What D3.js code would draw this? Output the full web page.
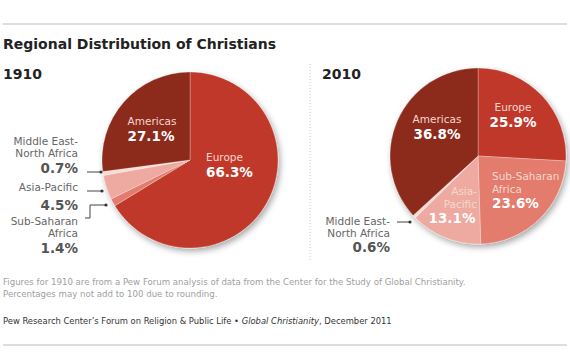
<!DOCTYPE html>
<html>
  <head>
    <meta charset="utf-8">
    <title>Regional Distribution of Christians</title>
    <style type="text/css">
      body {
        margin: 0;
        font-family: "DejaVu Sans", Verdana, sans-serif;
        background: #fff;
      }
      .title { font-size: 14px; font-weight: bold; fill: #222; }
      .year { font-size: 14px; font-weight: bold; fill: #222; }
      .in-name { font-size: 10.5px; fill: #f6d6cf; }
      .in-value { font-size: 13.5px; font-weight: bold; fill: #fff; }
      .out-name { font-size: 10.5px; fill: #666; }
      .out-value { font-size: 13.5px; font-weight: bold; fill: #555; }
      .note { font-size: 8.6px; fill: #a0a0a0; }
      .source { font-size: 8.4px; fill: #333; }
      .leader { fill: none; stroke: #444; stroke-width: 1px; }
    </style>
  </head>
  <body>
    <script src="https://cdnjs.cloudflare.com/ajax/libs/d3/7.8.5/d3.min.js"></script>
    <script>
    // data
    var regions = ["Europe", "Sub-Saharan Africa", "Asia-Pacific", "Middle East-North Africa", "Americas"];
    var shares1910 = [66.3, 1.4, 4.5, 0.7, 27.1];
    var shares2010 = [25.9, 23.6, 13.1, 0.6, 36.8];
    var years = ["1910", "2010"];

    var width = 570, height = 352;

    var color = d3.scaleOrdinal()
        .domain(regions)
        .range(["#c0392a", "#e37b6d", "#eeaaa0", "#f8dbd5", "#8c2a1d"]);

    var svg = d3.select("body").append("svg")
        .attr("width", width)
        .attr("height", height);

    var defs = svg.append("defs");
    var shadow = defs.append("filter")
        .attr("id", "shadow")
        .attr("x", "-20%").attr("y", "-20%")
        .attr("width", "140%").attr("height", "140%");
    shadow.append("feDropShadow")
        .attr("dx", 2).attr("dy", 3)
        .attr("stdDeviation", 3)
        .attr("flood-color", "#000")
        .attr("flood-opacity", 0.35);

    // rules
    svg.append("line")
        .attr("x1", 3).attr("x2", 567)
        .attr("y1", 24).attr("y2", 24)
        .style("stroke", "#ddd").style("stroke-width", 2);
    svg.append("line")
        .attr("x1", 3).attr("x2", 567)
        .attr("y1", 345).attr("y2", 345)
        .style("stroke", "#ddd").style("stroke-width", 2);
    svg.append("line")
        .attr("x1", 310).attr("x2", 310)
        .attr("y1", 64).attr("y2", 262)
        .style("stroke", "#ccc").style("stroke-width", 1)
        .style("stroke-dasharray", "1 2");

    svg.append("text").attr("class", "title")
        .attr("x", 3).attr("y", 49)
        .text("Regional Distribution of Christians");

    var pie = d3.pie().sort(null).value(function(d) { return d.value; });
    var radius = 88;
    var arc = d3.arc().innerRadius(0).outerRadius(radius);

    // label layout per year: dx/dy relative to pie centre
    var layout = {
      "1910": {
        cx: 190, cy: 160, yearX: 3, yearY: 79,
        inside: {
          "Europe": { x: 16, y: 1, anchor: "start", lines: ["Europe"], vx: 16, vy: 17 },
          "Americas": { x: -38, y: -35, anchor: "middle", lines: ["Americas"], vx: -39, vy: -19 }
        }
      },
      "2010": {
        cx: 478, cy: 156, yearX: 322, yearY: 79,
        inside: {
          "Europe": { x: 35, y: -45, anchor: "middle", lines: ["Europe"], vx: 35, vy: -29 },
          "Americas": { x: -41, y: -33, anchor: "middle", lines: ["Americas"], vx: -41, vy: -17 },
          "Sub-Saharan Africa": { x: 14, y: 24, anchor: "start", lines: ["Sub-Saharan", "Africa"], vx: 14, vy: 52 },
          "Asia-Pacific": { x: -1, y: 39, anchor: "end", lines: ["Asia-", "Pacific"], vx: -26, vy: 67, vanchor: "middle" }
        }
      }
    };

    var outside1910 = [
      { region: "Middle East-North Africa", lines: ["Middle East-", "North Africa"], x: 78, y: 145, vy: 173,
        path: [[87, 172], [101, 172]] },
      { region: "Asia-Pacific", lines: ["Asia-Pacific"], x: 78, y: 191, vy: 210,
        path: [[87, 191], [102, 191]] },
      { region: "Sub-Saharan Africa", lines: ["Sub-Saharan", "Africa"], x: 78, y: 225, vy: 253,
        path: [[85, 218], [90, 218], [90, 205], [106, 205]] }
    ];
    var outside2010 = [
      { region: "Middle East-North Africa", lines: ["Middle East-", "North Africa"], x: 390, y: 225, vy: 252,
        path: [[397, 222], [410, 222]] }
    ];

    function fmt(v) { return v.toFixed(1) + "%"; }

    function drawPie(year, shares, outside) {
      var lay = layout[year];
      var data = regions.map(function(r, i) { return { region: r, value: shares[i] }; });

      svg.append("text").attr("class", "year")
          .attr("x", lay.yearX).attr("y", lay.yearY)
          .text(year);

      var g = svg.append("g")
          .attr("transform", "translate(" + lay.cx + "," + lay.cy + ")");

      g.append("g")
          .style("filter", "url(#shadow)")
        .selectAll("path")
        .data(pie(data))
        .enter().append("path")
          .attr("d", arc)
          .style("fill", function(d) { return color(d.data.region); })
          .style("stroke", "#fff")
          .style("stroke-opacity", 0.35)
          .style("stroke-width", 0.8);

      data.forEach(function(d) {
        var l = lay.inside[d.region];
        if (!l) return;
        l.lines.forEach(function(line, i) {
          g.append("text").attr("class", "in-name")
              .attr("x", l.x).attr("y", l.y + i * 12.5)
              .attr("text-anchor", l.anchor)
              .text(line);
        });
        g.append("text").attr("class", "in-value")
            .attr("x", l.vx).attr("y", l.vy)
            .attr("text-anchor", l.vanchor || l.anchor)
            .text(fmt(d.value));
      });

      outside.forEach(function(o) {
        var v = shares[regions.indexOf(o.region)];
        o.lines.forEach(function(line, i) {
          svg.append("text").attr("class", "out-name")
              .attr("x", o.x).attr("y", o.y + i * 12)
              .attr("text-anchor", "end")
              .text(line);
        });
        svg.append("text").attr("class", "out-value")
            .attr("x", o.x).attr("y", o.vy)
            .attr("text-anchor", "end")
            .text(fmt(v));
        svg.append("path").attr("class", "leader")
            .attr("d", d3.line()(o.path));
        var end = o.path[o.path.length - 1];
        svg.append("circle")
            .attr("cx", end[0]).attr("cy", end[1]).attr("r", 1.6)
            .style("fill", "#333");
      });
    }

    drawPie("1910", shares1910, outside1910);
    drawPie("2010", shares2010, outside2010);

    svg.append("text").attr("class", "note")
        .attr("x", 3).attr("y", 285)
        .text("Figures for 1910 are from a Pew Forum analysis of data from the Center for the Study of Global Christianity.");
    svg.append("text").attr("class", "note")
        .attr("x", 3).attr("y", 297)
        .text("Percentages may not add to 100 due to rounding.");

    var src = svg.append("text").attr("class", "source")
        .attr("x", 3).attr("y", 324);
    src.append("tspan").text("Pew Research Center\u2019s Forum on Religion & Public Life \u2022 ");
    src.append("tspan").style("font-style", "italic").text("Global Christianity");
    src.append("tspan").text(", December 2011");
    </script>
  </body>
</html>
